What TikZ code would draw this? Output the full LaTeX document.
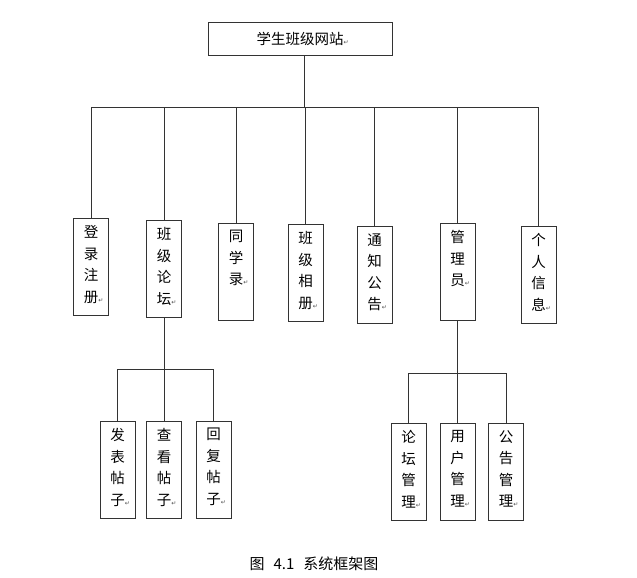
\documentclass[tikz,border=0pt]{standalone}
\usepackage{fontspec}
\setmainfont{Noto Sans CJK SC}
\newfontfamily\symfont{DejaVu Sans}
\usepackage{tikz}
\usetikzlibrary{positioning, calc}
\newcommand{\ret}{{\symfont\fontsize{6pt}{6pt}\selectfont\textcolor{black!70}{↵}}}
\newcommand{\vcol}[1]{\parbox[c][97pt][t]{35pt}{\vspace*{7pt}\centering\fontsize{14.5pt}{21.5pt}\selectfont #1}}

\begin{document}
\begin{tikzpicture}[x=1pt, y=-1pt,
				modbox/.style={draw=black!80, line width=0.8pt, inner sep=0pt, anchor=north},
				link/.style={draw=black!80, line width=0.8pt}]
			\useasboundingbox (0,0) rectangle (637,578);
			\node[modbox, anchor=center, minimum width=184pt, minimum height=33pt, font=\fontsize{14.5pt}{16pt}\selectfont] (top) at (300,38.5) {学生班级网站\rlap{\ret}};
			\coordinate (hub) at (304,107);
			\draw[link] (top.south -| hub) -- (hub);
			% second level
			\foreach \n/\x/\y/\lab in {login/91/218/{登\\录\\注\\册\rlap{\ret}}, forum/164/220/{班\\级\\论\\坛\rlap{\ret}},
				mates/236/223/{同\\学\\录\rlap{\ret}}, album/305.5/224/{班\\级\\相\\册\rlap{\ret}},
				notice/374.5/226/{通\\知\\公\\告\rlap{\ret}}, admin/457.5/223/{管\\理\\员\rlap{\ret}},
				info/538.5/226/{个\\人\\信\\息\rlap{\ret}}}{
				\node[modbox] (\n) at (\x,\y) {\vcol{\lab}};
				\draw[link] (\n.north) -- (\n.north |- hub);
			}
			\draw[link] (login.north |- hub) -- (info.north |- hub);
			% forum
			\coordinate (fhub) at (164,369);
			\foreach \n/\x/\lab in {post/117.5/{发\\表\\帖\\子\rlap{\ret}}, view/164/{查\\看\\帖\\子\rlap{\ret}}, reply/213.5/{回\\复\\帖\\子\rlap{\ret}}}{
				\node[modbox] (\n) at (\x,421) {\vcol{\lab}};
				\draw[link] (\n.north) -- (\n.north |- fhub);
			}
			\draw[link] (forum.south) -- (fhub);
			\draw[link] (post.north |- fhub) -- (reply.north |- fhub);
			% admin
			\coordinate (ahub) at (457.5,373);
			\foreach \n/\x/\lab in {bbsmgr/408.5/{论\\坛\\管\\理\rlap{\ret}}, usermgr/457.5/{用\\户\\管\\理\rlap{\ret}}, notemgr/506/{公\\告\\管\\理\rlap{\ret}}}{
				\node[modbox] (\n) at (\x,423) {\vcol{\lab}};
				\draw[link] (\n.north) -- (\n.north |- ahub);
			}
			\draw[link] (admin.south) -- (ahub);
			\draw[link] (bbsmgr.north |- ahub) -- (notemgr.north |- ahub);
			\node[font=\fontsize{15pt}{17pt}\selectfont] (caption) at (314,564) {图\hspace{0.6em}4.1\hspace{0.6em}系统框架图};
		\end{tikzpicture}
\end{document}
